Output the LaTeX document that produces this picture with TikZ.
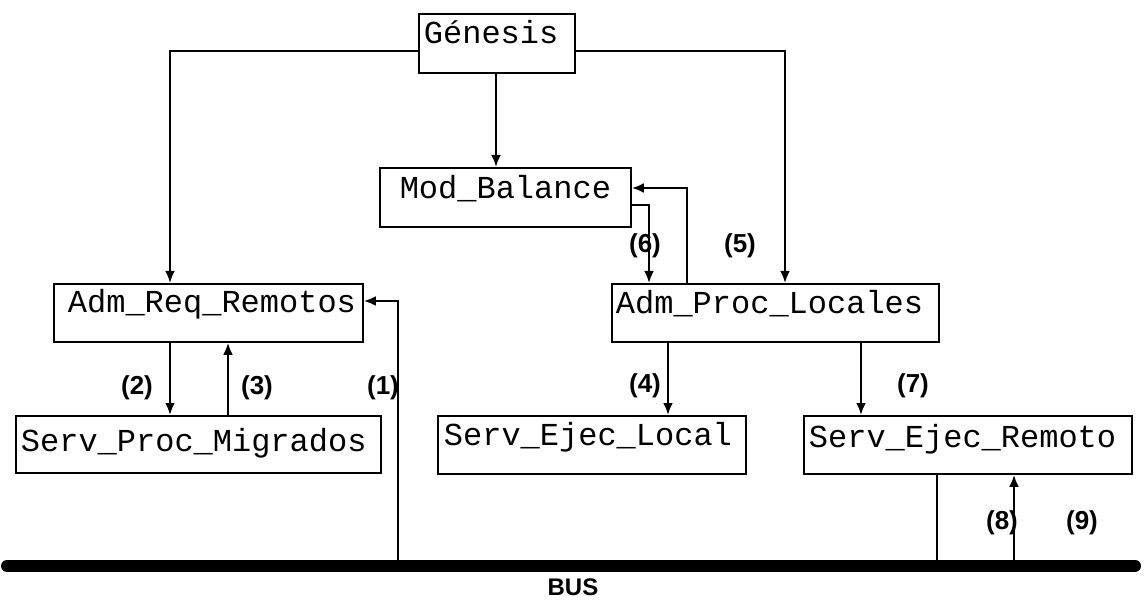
\documentclass[tikz,border=0pt]{standalone}
\usepackage{fontspec}
\setmainfont{Liberation Sans}
\newfontfamily\monofont{Liberation Mono}
\usetikzlibrary{arrows.meta,calc}
\tikzset{
  box/.style={draw, line width=1.8pt, anchor=north west, inner xsep=0pt, inner ysep=0pt,
    align=left, font=\monofont\fontsize{32}{32}\selectfont},
  conn/.style={line width=2.4pt, -{Latex[length=12pt,width=10pt]}},
  plain/.style={line width=2.4pt},
  lbl/.style={font=\bfseries\fontsize{26}{26}\selectfont, inner sep=0pt},
  buslbl/.style={font=\bfseries\fontsize{24}{24}\selectfont, inner sep=0pt},
  busline/.style={line width=12pt, line cap=round}
}
\begin{document}
\begin{tikzpicture}[x=1pt,y=-1pt]
\useasboundingbox (0,0) rectangle (1148,601);
% boxes
\node[box, text width=156pt, text height=30pt, text depth=29pt] (gen) at (418,13) {\hspace*{5pt}Génesis};
\node[box, text width=251pt, text height=31pt, text depth=28pt, align=center] (mb) at (379,167) {Mod\_Balance};
\node[box, text width=309pt, text height=29pt, text depth=29pt] (adr) at (53,283) {\hspace*{14pt}Adm\_Req\_Remotos};
\node[box, text width=327pt, text height=30pt, text depth=28pt] (adp) at (611,283) {\hspace*{4pt}Adm\_Proc\_Locales};
\node[box, text width=365pt, text height=36pt, text depth=21pt] (spm) at (15,415) {\hspace*{5pt}Serv\_Proc\_Migrados};
\node[box, text width=308pt, text height=30pt, text depth=28pt] (sel) at (437,415) {\hspace*{6pt}Serv\_Ejec\_Local};
\node[box, text width=328pt, text height=32pt, text depth=26pt] (ser) at (803,415) {\hspace*{5pt}Serv\_Ejec\_Remoto};
% bus
\coordinate (busL) at (7,566);
\coordinate (busR) at (1135,566);
\draw[busline] (busL) -- (busR);
\node[buslbl] (bus) at (573,587) {BUS};
% connectors
\draw[conn] ($(gen.north west)+(0,38)$) -| ($(adr.north west)+(117,0)$);
\draw[conn] ($(gen.north east)+(0,38)$) -| ($(adp.north west)+(174,0)$);
\draw[conn] ($(gen.south west)+(78,0)$) -- ($(mb.north west)+(117,0)$);
\draw[conn] ($(mb.north east)+(0,38)$) -| ($(adp.north west)+(38,0)$);
\draw[conn] ($(adp.north west)+(76,0)$) |- ($(mb.north east)+(0,21)$);
\draw[conn] ($(adr.south west)+(117,0)$) -- ($(spm.north west)+(155,0)$);
\draw[conn] ($(spm.north west)+(213,0)$) -- ($(adr.south west)+(175,0)$);
\draw[conn] ($(busL)+(391,0)$) |- ($(adr.north east)+(0,18)$);
\draw[conn] ($(adp.south west)+(57,0)$) -- ($(sel.north west)+(231,0)$);
\draw[conn] ($(adp.south west)+(250,0)$) -- ($(ser.north west)+(58,0)$);
\draw[plain] ($(ser.south west)+(134,0)$) -- ($(busL)+(930,0)$);
\draw[conn] ($(busL)+(1007,0)$) -- ($(ser.south west)+(211,0)$);
% labels
\node[lbl] (l1) at (383,388) {(1)};
\node[lbl] (l2) at (137,388) {(2)};
\node[lbl] (l3) at (257,388) {(3)};
\node[lbl] (l4) at (645,386) {(4)};
\node[lbl] (l5) at (740,246) {(5)};
\node[lbl] (l6) at (645,246) {(6)};
\node[lbl] (l7) at (913,386) {(7)};
\node[lbl] (l8) at (1002,523) {(8)};
\node[lbl] (l9) at (1082,523) {(9)};
\end{tikzpicture}
\end{document}
